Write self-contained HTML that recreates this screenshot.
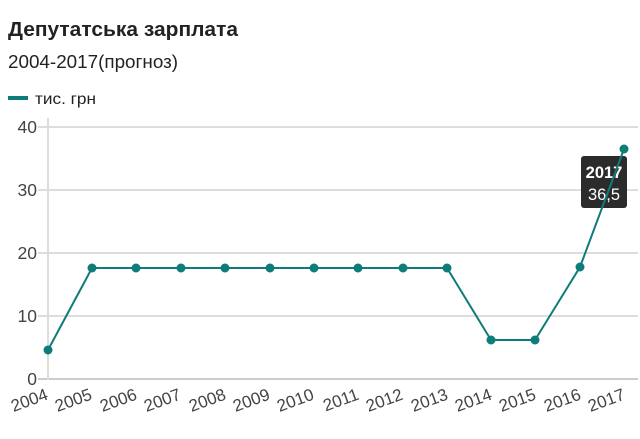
<!DOCTYPE html>
<html><head><meta charset="utf-8"><style>
html,body{margin:0;padding:0;background:#fff;width:640px;height:439px;overflow:hidden}
svg{display:block;font-family:"Liberation Sans",sans-serif}
</style></head><body>
<svg width="640" height="439" viewBox="0 0 640 439">
<text x="8" y="36" font-size="20.5" font-weight="bold" fill="#222" textLength="230" lengthAdjust="spacingAndGlyphs">Депутатська зарплата</text>
<text x="8" y="68" font-size="18" fill="#222" textLength="170" lengthAdjust="spacingAndGlyphs">2004-2017(прогноз)</text>
<rect x="8" y="96" width="20" height="4" fill="#0e7c78"/>
<text x="35" y="104" font-size="16" fill="#222" textLength="61" lengthAdjust="spacingAndGlyphs">тис. грн</text>
<g stroke="#ddd" stroke-width="2">
<line x1="38" y1="127" x2="638" y2="127"/>
<line x1="38" y1="190" x2="638" y2="190"/>
<line x1="38" y1="253" x2="638" y2="253"/>
<line x1="38" y1="316" x2="638" y2="316"/>
<line x1="38" y1="379" x2="638" y2="379" stroke="#ccc"/>
<line x1="48" y1="118" x2="48" y2="380"/>
</g>
<g font-size="17.5" fill="#444" text-anchor="end">
<text x="37" y="133">40</text><text x="37" y="196">30</text><text x="37" y="259">20</text><text x="37" y="322">10</text><text x="37" y="385">0</text>
</g>
<g font-size="17" fill="#444" text-anchor="end">
<text transform="translate(49,399) rotate(-20)">2004</text>
<text transform="translate(93,399) rotate(-20)">2005</text>
<text transform="translate(138,399) rotate(-20)">2006</text>
<text transform="translate(182,399) rotate(-20)">2007</text>
<text transform="translate(227,399) rotate(-20)">2008</text>
<text transform="translate(271,399) rotate(-20)">2009</text>
<text transform="translate(315,399) rotate(-20)">2010</text>
<text transform="translate(360,399) rotate(-20)">2011</text>
<text transform="translate(404,399) rotate(-20)">2012</text>
<text transform="translate(449,399) rotate(-20)">2013</text>
<text transform="translate(493,399) rotate(-20)">2014</text>
<text transform="translate(537,399) rotate(-20)">2015</text>
<text transform="translate(582,399) rotate(-20)">2016</text>
<text transform="translate(626,399) rotate(-20)">2017</text>
</g>
<rect x="581" y="156" width="46" height="52" rx="3" fill="#2b2b2b"/>
<text x="604" y="178" font-size="16.5" font-weight="bold" fill="#fff" text-anchor="middle">2017</text>
<text x="604" y="200" font-size="16.5" fill="#fff" text-anchor="middle">36,5</text>
<polyline fill="none" stroke="#0e7c78" stroke-width="2" points="48,350 92,268 136,268 181,268 225,268 270,268 314,268 358,268 403,268 447,268 491,340 535,340 580,267 624,149"/>
<g fill="#0e7c78">
<circle cx="48" cy="350" r="4.5"/><circle cx="92" cy="268" r="4.5"/><circle cx="136" cy="268" r="4.5"/><circle cx="181" cy="268" r="4.5"/><circle cx="225" cy="268" r="4.5"/><circle cx="270" cy="268" r="4.5"/><circle cx="314" cy="268" r="4.5"/><circle cx="358" cy="268" r="4.5"/><circle cx="403" cy="268" r="4.5"/><circle cx="447" cy="268" r="4.5"/><circle cx="491" cy="340" r="4.5"/><circle cx="535" cy="340" r="4.5"/><circle cx="580" cy="267" r="4.5"/><circle cx="624" cy="149" r="4.5"/>
</g>
</svg>
</body></html>
